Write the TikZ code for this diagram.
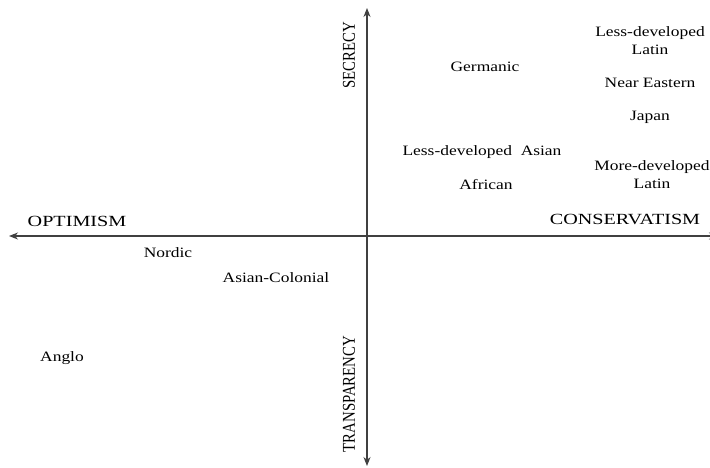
\documentclass[tikz,border=0pt]{standalone}
\usepackage{fontspec}
\setmainfont{Liberation Serif}
\usetikzlibrary{arrows.meta}
\newcommand\hs[1]{\scalebox{1.22}[1]{#1}}
\newcommand\hax[1]{\scalebox{1.3}[1]{#1}}
\newcommand\vax[1]{\scalebox{1}[1.22]{#1}}
\begin{document}
\begin{tikzpicture}[x=1pt,y=-1pt,
  lbl/.style={inner sep=0pt,align=center,font=\fontsize{14.3}{18}\selectfont,text=black},
  axlbl/.style={inner sep=0pt,font=\fontsize{15.5}{18}\selectfont,text=black},
  vlbl/.style={inner sep=0pt,rotate=90,font=\fontsize{14.8}{18}\selectfont,text=black},
  axis/.style={draw=black!75,line width=1.1pt,-{Stealth[length=9pt,width=7pt]}}]
\useasboundingbox (0,0) rectangle (710,467);
\fill[white] (0,0) rectangle (710,467);
% axis end points
\coordinate (vbot) at (367,466);
\coordinate (vtop) at (367,8);
\coordinate (hright) at (718,236);
\coordinate (hleft) at (9,236);
\coordinate (origin) at (367,236);
\draw[axis] (origin) -- (vtop);
\draw[axis] (origin) -- (vbot);
\draw[axis] (origin) -- (hleft);
\draw[axis] (origin) -- (hright);
% axis labels
\node[vlbl] (secrecy) at (349,55) {\vax{SECRECY}};
\node[vlbl] (transp) at (349,394) {\vax{TRANSPARENCY}};
\node[axlbl] (optimism) at (77,221) {\hax{OPTIMISM}};
\node[axlbl] (conserv) at (625,219) {\scalebox{1.3}[1]{CONSERVATISM}};
% cluster labels
\node[lbl] (ldlatin) at (650,41) {\hs{Less-developed}\\\hs{Latin}};
\node[lbl] (germanic) at (485,67) {\hs{Germanic}};
\node[lbl] (neareast) at (650,83) {\hs{Near Eastern}};
\node[lbl] (japan) at (650,117) {\hs{Japan}};
\node[lbl] (ldasian) at (482,152) {\hs{Less-developed\ \ Asian}};
\node[lbl] (african) at (486,185) {\hs{African}};
\node[lbl] (mdlatin) at (652,175) {\hs{More-developed}\\\hs{Latin}};
\node[lbl] (nordic) at (168,253) {\hs{Nordic}};
\node[lbl] (asiancol) at (276,278) {\hs{Asian-Colonial}};
\node[lbl] (anglo) at (62,358) {\hs{Anglo}};
\end{tikzpicture}
\end{document}
